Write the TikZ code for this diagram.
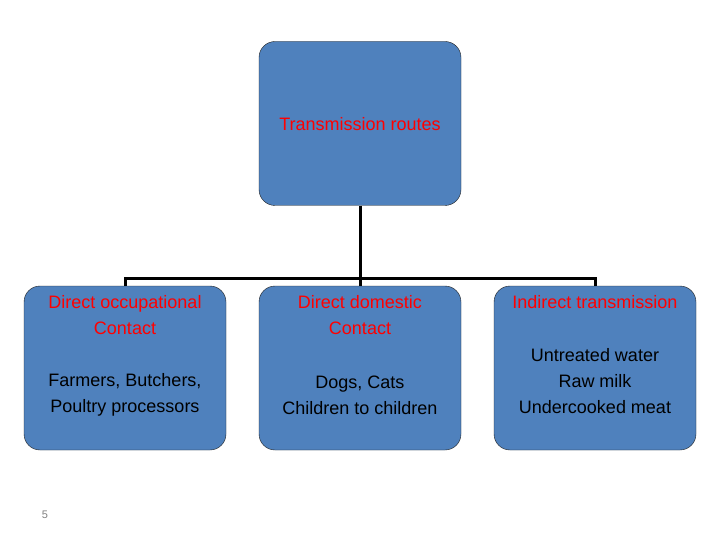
\documentclass[tikz,border=0pt]{standalone}
\usepackage{fontspec}
\setmainfont{Liberation Sans}
\usetikzlibrary{positioning}
\definecolor{boxblue}{HTML}{4F81BD}
\definecolor{boxline}{HTML}{1F1F1F}
\begin{document}
\begin{tikzpicture}[
    x=1pt, y=-1pt,
    every node/.style={font=\fontsize{18}{26}\selectfont},
    route/.style={rectangle, draw=boxline, fill=boxblue, rounded corners=16pt,
        minimum width=202pt, minimum height=164pt, inner sep=0pt},
    head/.style={text=red, align=center},
    body/.style={text=black, align=center},
    link/.style={line width=3pt, black}
]
\useasboundingbox (0,0) rectangle (720,540);

% Boxes
\node[route] (top) at (360,123.5) {};
\node[route] (occ) at (125,368) {};
\node[route] (dom) at (360,368) {};
\node[route] (ind) at (595,368) {};

% Texts
\node[head] at (360,124) {Transmission routes};
\node[head] at (125,315) {Direct occupational\\Contact};
\node[body] at (125,395) {Farmers, Butchers,\\Poultry processors};
\node[head] at (360,315) {Direct domestic\\Contact};
\node[body] at (360,395) {Dogs, Cats\\Children to children};
\node[head] at (595,302) {Indirect transmission};
\node[body] at (595,381) {Untreated water\\Raw milk\\Undercooked meat};
\node[text=gray, font=\fontsize{11}{13}\selectfont] (page) at (45,515) {5};

% Edges
\coordinate (hub) at (360,278);
\draw[link] (top.south) -- (hub);
\draw[link] (hub) -| (occ.north);
\draw[link] (hub) -- (dom.north);
\draw[link] (hub) -| (ind.north);

\end{tikzpicture}
\end{document}
